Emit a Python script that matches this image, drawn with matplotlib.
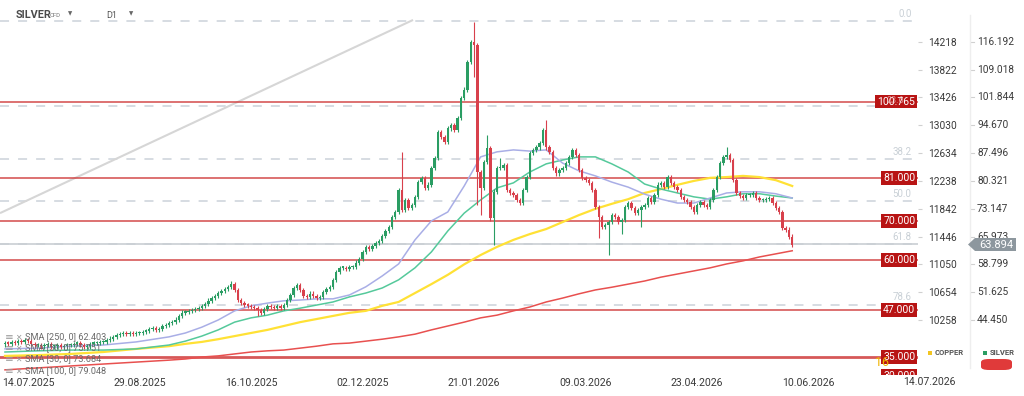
import matplotlib
matplotlib.use('Agg')
import matplotlib.pyplot as plt
import matplotlib.transforms as mtransforms
from matplotlib.patches import Polygon, FancyBboxPatch
from matplotlib.lines import Line2D

plt.rcParams['font.family'] = ['Roboto', 'DejaVu Sans']

# ---------------- data ----------------
closes = [
    38.5, 38.3, 38.8, 38.5, 39.0, 38.8, 39.3, 39.0, 38.3, 38.0,
    38.0, 37.7, 38.0, 38.3, 37.7, 37.7, 38.0, 37.5, 37.7, 38.0,
    38.0, 38.3, 38.5, 38.0, 37.5, 37.7, 38.3, 38.5, 38.5, 38.8,
    38.8, 39.3, 39.6, 40.1, 40.6, 40.8, 41.1, 40.8, 41.1, 40.8,
    41.1, 41.1, 41.4, 41.6, 42.1, 42.4, 41.9, 42.1, 42.9, 43.2,
    43.7, 43.9, 44.5, 45.5, 46.3, 46.5, 46.8, 47.0, 47.3, 47.5,
    48.1, 48.6, 49.4, 50.1, 50.6, 51.4, 51.9, 52.4, 53.0, 53.7,
    52.2, 49.6, 48.8, 48.3, 48.1, 47.8, 47.5, 47.0, 46.3, 47.3,
    48.1, 47.8, 47.5, 48.1, 47.5, 48.3, 49.6, 50.9, 52.7, 53.5,
    52.2, 50.6, 50.4, 51.2, 50.6, 50.1, 50.4, 51.7, 52.4, 53.0,
    54.8, 56.8, 57.9, 57.9, 57.6, 58.1, 58.1, 59.2, 60.2, 62.0,
    63.3, 62.8, 63.5, 64.3, 64.8, 66.1, 67.4, 68.4, 71.0, 72.3,
    78.0, 72.8, 75.4, 73.3, 74.1, 76.2, 80.0, 81.1, 78.5, 79.3,
    83.6, 86.2, 92.9, 91.6, 90.4, 93.9, 94.7, 93.4, 96.5, 101.7,
    103.8, 111.0, 116.1, 115.3, 82.6, 78.5, 85.2, 88.8, 70.7, 77.5,
    83.6, 83.6, 84.4, 78.0, 77.2, 76.7, 75.4, 74.6, 78.0, 81.3,
    87.5, 88.3, 89.0, 90.1, 93.4, 89.0, 87.8, 83.6, 82.3, 83.1,
    83.6, 84.9, 86.5, 88.3, 87.0, 83.1, 81.1, 80.5, 79.8, 78.0,
    73.6, 71.0, 68.4, 68.9, 69.7, 71.5, 71.0, 69.7, 70.2, 73.6,
    74.6, 73.3, 72.0, 72.8, 73.6, 74.1, 75.9, 74.9, 76.7, 79.3,
    79.8, 78.7, 81.3, 79.8, 78.7, 78.0, 76.2, 75.4, 74.9, 73.6,
    72.3, 74.1, 74.9, 74.1, 73.6, 75.4, 78.0, 81.3, 84.9, 86.5,
    87.0, 85.7, 80.5, 77.2, 76.4, 75.9, 76.7, 76.7, 77.2, 75.9,
    75.4, 75.4, 75.6, 75.9, 74.6, 73.3, 72.3, 68.2, 67.7, 65.9,
    63.894,
]
first_open = 38.2
wick_high = {69: 54.5, 121: 87.8, 143: 121.3, 147: 92.1, 151: 86.2,
             165: 96.0, 220: 89.0}
wick_low = {77: 45.5, 143: 107.0, 144: 74.0, 145: 71.5, 149: 63.8,
            181: 65.5, 184: 61.2, 188: 66.5, 194: 68.4}

date_ticks = [7, 41, 75, 109, 143, 177, 211, 245]
date_labels = ['14.07.2025', '29.08.2025', '16.10.2025', '02.12.2025',
               '21.01.2026', '09.03.2026', '23.04.2026', '10.06.2026']
extra_date_label = '14.07.2026'

sma_idx = [0, 10, 20, 30, 40, 50] + list(range(55, 241, 5))
sma30 = [37.0, 37.2, 37.7, 38.0, 38.8, 40.1,
         41.1, 42.6, 44.45, 46.8, 48.1, 48.8, 49.4, 49.6, 49.9, 49.9,
         50.9, 53.0, 55.8, 58.9, 65.1, 70.0, 72.3, 79.0, 86.5, 87.8,
         88.3, 88.0, 88.3, 84.9, 82.9, 81.6, 80.0, 78.7, 76.9, 75.6,
         74.6, 74.6, 75.9, 77.2, 77.5, 77.5, 77.0, 75.9]
sma50 = [36.2, 36.5, 36.7, 36.7, 37.0, 38.0,
         39.0, 40.3, 41.9, 43.9, 45.0, 45.7, 46.8, 47.5, 48.3, 49.1,
         50.4, 51.4, 52.7, 54.8, 57.9, 62.0, 67.4, 72.0, 75.4, 78.5,
         79.8, 82.6, 84.7, 85.7, 86.5, 86.5, 84.7, 82.6, 79.5, 78.2,
         77.2, 76.2, 75.6, 76.2, 77.0, 77.0, 76.4, 75.9]
sma100 = [35.2, 35.4, 35.7, 36.2, 37.0, 37.7,
          38.3, 38.8, 39.5, 40.3, 41.1, 41.9, 42.9, 43.9, 44.7, 45.5,
          46.3, 46.8, 48.1, 49.1, 51.4, 53.7, 56.1, 58.8, 61.2, 63.3,
          65.1, 66.6, 67.9, 69.7, 71.5, 73.1, 74.4, 75.6, 77.2, 78.2,
          79.3, 80.3, 81.1, 81.3, 81.6, 81.3, 80.5, 79.0]
sma250 = [31.6, 32.1, 32.6, 33.1, 33.6, 34.1,
          34.4, 34.9, 35.2, 35.7, 36.2, 36.5, 36.7, 37.2, 37.7, 38.3,
          38.5, 39.0, 39.5, 40.1, 40.8, 41.9, 42.9, 43.9, 45.0, 45.7,
          46.8, 47.8, 49.1, 50.1, 51.2, 52.2, 52.9, 53.7, 54.5, 55.5,
          56.3, 57.1, 57.9, 58.9, 59.7, 60.7, 61.5, 62.3]
sma_legend = ['SMA [250, 0] 62.403', 'SMA [50, 0] 75.751',
              'SMA [30, 0] 73.684', 'SMA [100, 0] 79.048']

levels = [100.765, 81.0, 70.0, 60.0, 47.0, 35.0, 30.0]
level_labels = ['100.765', '81.000', '70.000', '60.000', '47.000', '35.000', '30.000']

fib_top, fib_range = 121.5, 93.0
fib_ratios = [0.0, 23.6, 38.2, 50.0, 61.8, 78.6]

silver_ticks = [116.192, 109.018, 101.844, 94.670, 87.496, 80.321,
                73.147, 65.973, 58.799, 51.625, 44.450]
copper_ticks = ['14218', '13822', '13426', '13030', '12634', '12238',
                '11842', '11446', '11050', '10654', '10258']
silver_tick_labels = ['116.192', '109.018', '101.844', '94.670', '87.496', '80.321',
                      '73.147', '65.973', '58.799', '51.625', '44.450']
last_price = 63.894
trend_x = [-1.52, 124.4]
trend_y = [72.0, 121.8]

# ---------------- figure ----------------
W, H = 1024, 396
fig = plt.figure(figsize=(W / 100, H / 100), dpi=100)
fig.patch.set_facecolor('white')
ax_bottom_px = 375
ax = fig.add_axes([0, (H - ax_bottom_px) / H, 918 / W, ax_bottom_px / H])
ax.set_facecolor('white')
ax.set_xlim(-1.52, 278.35)
ax.set_ylim(44.45 - (ax_bottom_px - 320) / 3.879, 44.45 + 320 / 3.879)
for s in ax.spines.values():
    s.set_visible(False)

GREEN = '#2a9d63'
RED = '#d8404c'
bt = mtransforms.blended_transform_factory(ax.transAxes, ax.transData)

# fib dashed lines
for r in fib_ratios:
    lvl = fib_top - fib_range * r / 100.0
    ax.axhline(lvl, color='#d3d9df', lw=1.3, ls=(0, (5, 5)), zorder=1)
    if r != 23.6:
        ax.text(0.993, lvl + 0.6, f'{r:.1f}', transform=bt,
                ha='right', va='bottom', fontsize=7, color='#c9d0d6', zorder=2)

# current price line
ax.axhline(last_price + 0.05, color='#c9ced3', lw=1.2, zorder=1)

# trend line
ax.plot(trend_x, trend_y, color='#d6d6d6', lw=1.5, zorder=1, solid_capstyle='butt')

# horizontal levels
for lvl in levels:
    lw = 2.0 if lvl == 35.0 else 1.2
    ax.axhline(lvl, color='#cf3b3b', lw=lw, alpha=0.85, zorder=2)

# SMAs
ax.plot(sma_idx, sma250, color='#e8504f', lw=1.1, zorder=3)
ax.plot(sma_idx, sma100, color='#ffe135', lw=1.6, zorder=3)
ax.plot(sma_idx, sma50, color='#55c99b', lw=1.1, zorder=3)
ax.plot(sma_idx, sma30, color='#a9aee6', lw=1.1, zorder=3)

# candles
opens = [first_open] + closes[:-1]
for i, (o, c) in enumerate(zip(opens, closes)):
    col = GREEN if c >= o else RED
    hi = wick_high.get(i, max(o, c) + 0.6)
    lo = wick_low.get(i, min(o, c) - 0.6)
    ax.vlines(i, lo, hi, color=col, lw=0.8, zorder=4)
    h = abs(c - o)
    if h < 0.35:
        h = 0.35
    ax.bar(i, h, bottom=min(o, c), width=0.72, color=col, linewidth=0, zorder=5)

# level labels
for lvl, lab in zip(levels, level_labels):
    ax.text(0.997, lvl, lab, transform=bt, ha='right', va='center', fontsize=7.5,
            color='white', zorder=8, clip_on=True,
            bbox=dict(boxstyle='square,pad=0.18', fc='#b81414', ec='none'))
ax.text(0.975, 100.765 + 0.3, '23.6', transform=bt, ha='center', va='center',
        fontsize=6.5, color='#f0c0c0', zorder=9, alpha=0.7)

# x ticks
ax.set_xticks(date_ticks)
ax.set_xticklabels(date_labels)
ax.tick_params(axis='x', length=0, pad=2.5, labelsize=7.6, labelcolor='#3a3a3a')

# y ticks (copper column)
ax.yaxis.tick_right()
ax.set_yticks(silver_ticks)
ax.set_yticklabels(copper_ticks)
ax.tick_params(axis='y', length=3, width=0.8, color='#d0d0d0', pad=4, labelsize=7.3, labelcolor='#3a3a3a')

# silver column
ft = mtransforms.blended_transform_factory(fig.transFigure, ax.transData)
for v, lab in zip(silver_ticks, silver_tick_labels):
    fig.text(977 / W, v, lab, transform=ft, ha='left', va='center', fontsize=7.3, color='#3a3a3a')
    fig.add_artist(Line2D([971 / W, 974 / W], [v, v], transform=ft, color='#d0d0d0', lw=0.8))
fig.add_artist(Line2D([970 / W, 970 / W], [1 - 15 / H, 1 - 368 / H], transform=fig.transFigure,
                      color='#eeeeee', lw=1))
fig.text(929 / W, 1 - 382 / H, extra_date_label, ha='center', va='center', fontsize=7.6, color='#3a3a3a')

# price tag
tag = Polygon([(968 / W, 1 - 244.5 / H), (975 / W, 1 - 238 / H), (1016 / W, 1 - 238 / H),
               (1016 / W, 1 - 251 / H), (975 / W, 1 - 251 / H)], closed=True,
              transform=fig.transFigure, fc='#8d979e', ec='none', zorder=10)
fig.add_artist(tag)
fig.text(996 / W, 1 - 244.5 / H, f'{last_price:.3f}', ha='center', va='center',
         fontsize=8, color='white', zorder=11)

# header
fig.text(16 / W, 1 - 15 / H, 'SILVER', ha='left', va='center', fontsize=7.8,
         fontweight='bold', color='#4a4a4a')
fig.text(50 / W, 1 - 15.5 / H, 'CFD', ha='left', va='center', fontsize=4.3, color='#777777')
fig.text(70 / W, 1 - 14 / H, '▼', ha='center', va='center', fontsize=4, color='#666666',
         family=['DejaVu Sans'])
fig.text(106 / W, 1 - 15 / H, 'D1', ha='left', va='center', fontsize=6.5, color='#555555')
fig.text(131 / W, 1 - 14 / H, '▼', ha='center', va='center', fontsize=4, color='#666666',
         family=['DejaVu Sans'])

# SMA legend
for k, (ypx, lab) in enumerate(zip([337, 348, 359, 371], sma_legend)):
    fig.text(5 / W, 1 - ypx / H, '≡', ha='left', va='center', fontsize=7.5, color='#9a9a9a',
             family=['DejaVu Sans'])
    fig.text(15 / W, 1 - ypx / H, '✕', ha='left', va='center', fontsize=5.5, color='#9a9a9a',
             family=['DejaVu Sans'])
    fig.text(25 / W, 1 - ypx / H, lab, ha='left', va='center', fontsize=6.6, color='#6a6a6a')

# bottom-right legend
fig.add_artist(FancyBboxPatch((928 / W, 1 - 355 / H), 4 / W, 4 / H, boxstyle='square,pad=0',
                              transform=fig.transFigure, fc='#f2c521', ec='none'))
fig.text(935 / W, 1 - 352.5 / H, 'COPPER', ha='left', va='center', fontsize=5.5,
         fontweight='bold', color='#555555')
fig.add_artist(FancyBboxPatch((983 / W, 1 - 355 / H), 4 / W, 4 / H, boxstyle='square,pad=0',
                              transform=fig.transFigure, fc=GREEN, ec='none'))
fig.text(990 / W, 1 - 352.5 / H, 'SILVER', ha='left', va='center', fontsize=5.5,
         fontweight='bold', color='#555555')
fig.add_artist(FancyBboxPatch((981 / W, 1 - 370 / H), 31 / W, 11 / H,
                              boxstyle='round,pad=0,rounding_size=0.008',
                              transform=fig.transFigure, fc='#e03a3a', ec='none'))
fig.text(882 / W, 1 - 362 / H, '16', ha='center', va='center', fontsize=9, color='#f0b400', zorder=1)

fig.savefig('out.png', dpi=100, facecolor='white')
